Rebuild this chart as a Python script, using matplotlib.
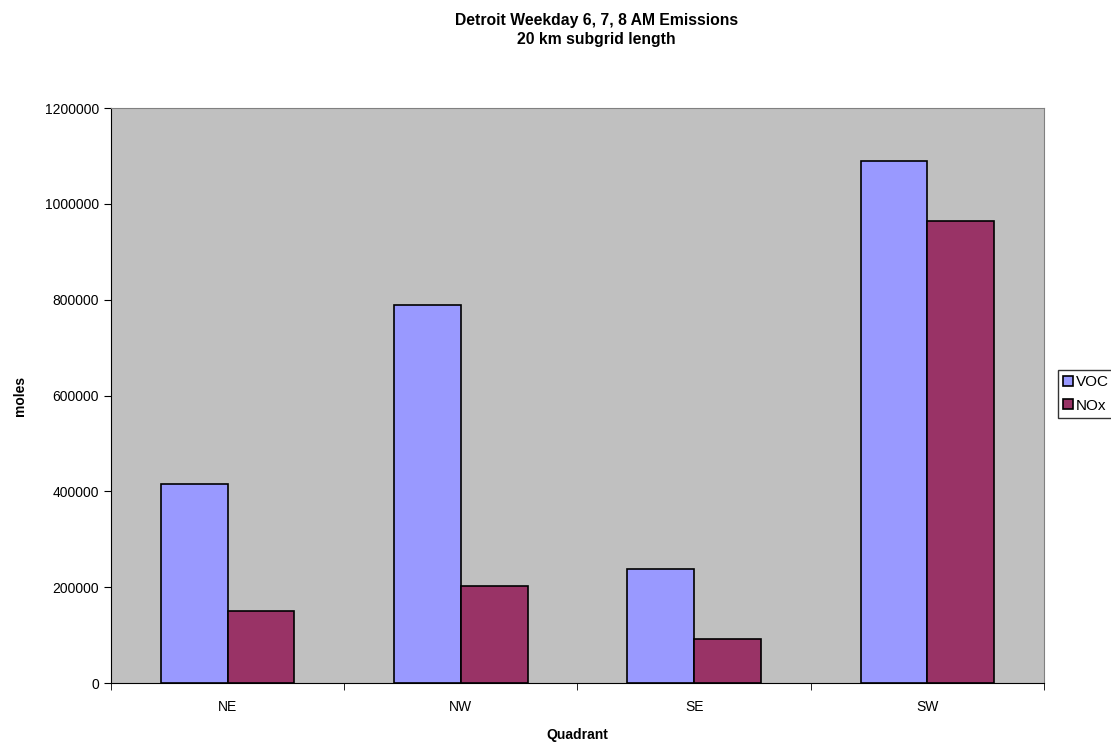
import matplotlib
matplotlib.use("Agg")
import matplotlib.pyplot as plt
import numpy as np

plt.rcParams['font.family'] = ['Liberation Sans', 'DejaVu Sans']

categories = ["NE", "NW", "SE", "SW"]
voc = [415000, 789000, 238000, 1089000]
nox = [150000, 202000, 92000, 964000]
yticks = [0, 200000, 400000, 600000, 800000, 1000000, 1200000]

fig = plt.figure(figsize=(11.11, 7.42), dpi=100)
ax = fig.add_axes([0.0999, 0.0795, 0.8398, 0.7749])
ax.set_facecolor("#C0C0C0")

x = np.arange(len(categories))
w = 1 / 3.5
ax.bar(x - w / 2, voc, w, color="#9999FF", edgecolor="black", linewidth=1.2, label="VOC")
ax.bar(x + w / 2, nox, w, color="#993366", edgecolor="black", linewidth=1.2, label="NOx")

ax.set_xlim(-0.5, len(categories) - 0.5)
ax.set_ylim(0, 1200000)
ax.set_yticks(yticks)
ax.set_yticklabels([str(v) for v in yticks], fontsize=10)
ax.set_xticks(x)
ax.set_xticklabels(categories, fontsize=10)
ax.tick_params(axis='x', length=0, pad=12)
ax.set_xticks(np.arange(-0.5, len(categories)), minor=True)
ax.tick_params(axis='x', which='minor', length=5, direction='out')
ax.tick_params(axis='y', length=5, direction='out')

for s in ["top", "right"]:
    ax.spines[s].set_color("#808080")
for s in ["left", "bottom"]:
    ax.spines[s].set_color("black")

ax.set_xlabel("Quadrant", fontsize=10, fontweight="bold", labelpad=10)
ax.set_ylabel("moles", fontsize=10, fontweight="bold", labelpad=13)
fig.text(0.537, 0.982, "Detroit Weekday 6, 7, 8 AM Emissions\n20 km subgrid length",
         ha="center", va="top", fontsize=11.3, fontweight="bold", linespacing=1.3)

leg = fig.legend(loc="upper left", bbox_to_anchor=(1058 / 1111, 1 - 370 / 742),
                 fontsize=11, frameon=True, fancybox=False, edgecolor="black",
                 handlelength=0.65, handleheight=0.65, handletextpad=0.15,
                 borderpad=0.35, labelspacing=0.6, borderaxespad=0)
leg.get_frame().set_linewidth(1.0)

fig.savefig("out.png", dpi=100)
